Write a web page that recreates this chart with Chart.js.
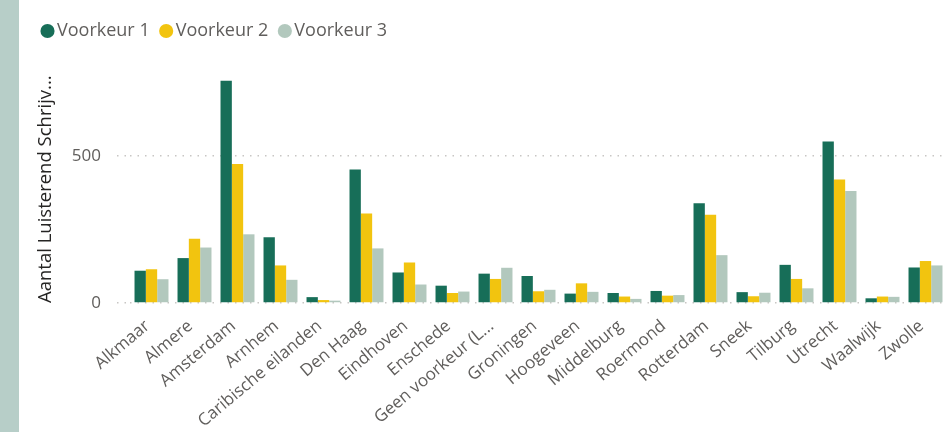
<!DOCTYPE html>
<html>
<head>
<meta charset="utf-8">
<script src="https://cdn.jsdelivr.net/npm/chart.js@4/dist/chart.umd.min.js"></script>
<style>
	html, body { margin: 0; padding: 0; background: #fff; overflow: hidden; }
	#strip { position: absolute; left: 0; top: 0; width: 19px; height: 432px; background: #b7cec8; }
	#box { position: absolute; left: 19px; top: 0; width: 931px; height: 432px; }
</style>
</head>
<body>
<div id="strip"></div>
<div id="box"><canvas id="chart"></canvas></div>
<script>
const categories = ['Alkmaar', 'Almere', 'Amsterdam', 'Arnhem', 'Caribische eilanden', 'Den Haag',
	'Eindhoven', 'Enschede', 'Geen voorkeur (L...', 'Groningen', 'Hoogeveen', 'Middelburg',
	'Roermond', 'Rotterdam', 'Sneek', 'Tilburg', 'Utrecht', 'Waalwijk', 'Zwolle'];
const voorkeur1 = [110, 153, 757, 224, 20, 455, 104, 59, 100, 92, 32, 34, 41, 340, 37, 130, 550, 16, 121];
const voorkeur2 = [115, 219, 474, 128, 10, 305, 138, 34, 82, 40, 67, 22, 25, 301, 23, 82, 421, 22, 143];
const voorkeur3 = [81, 189, 234, 79, 8, 186, 63, 39, 120, 45, 38, 14, 27, 163, 35, 50, 382, 21, 128];
const yTicks = [0, 500];

const font = "'Open Sans', 'Segoe UI', sans-serif";
const grey = '#605e5c';

const config = {
	type: 'bar',
	data: {
		labels: categories,
		datasets: [
			{ label: 'Voorkeur 1', data: voorkeur1, backgroundColor: '#176e58' },
			{ label: 'Voorkeur 2', data: voorkeur2, backgroundColor: '#f2c40f' },
			{ label: 'Voorkeur 3', data: voorkeur3, backgroundColor: '#b2c8bd' }
		]
	},
	options: {
		responsive: true,
		maintainAspectRatio: false,
		animation: false,
		layout: { padding: { left: 12, top: 6, right: 3, bottom: 0 } },
		datasets: { bar: { categoryPercentage: 0.79, barPercentage: 1.0, borderWidth: 0 } },
		plugins: {
			tooltip: { enabled: false },
			legend: {
				position: 'top',
				align: 'start',
				labels: {
					usePointStyle: true,
					pointStyle: 'circle',
					boxWidth: 1,
					boxHeight: 10,
					padding: 16,
					color: grey,
					font: { family: font, size: 18 }
				}
			}
		},
		scales: {
			x: {
				grid: { display: false },
				border: { display: false },
				ticks: {
					color: grey,
					font: { family: font, size: 17 },
					minRotation: 40,
					maxRotation: 40,
					autoSkip: false,
					padding: 5,
					labelOffset: -4
				},
				afterFit: (scale) => { scale.height = 129; }
			},
			y: {
				min: 0,
				max: 862,
				afterBuildTicks: (scale) => { scale.ticks = yTicks.map(v => ({ value: v })); },
				grid: {
					color: '#c8c6c4',
					lineWidth: 1.5,
					tickLength: 13,
					tickBorderDash: [1.5, 6],
					tickColor: '#c8c6c4'
				},
				border: { display: false, dash: [1.5, 6] },
				ticks: { color: grey, font: { family: font, size: 17 }, padding: 16 },
				title: {
					display: true,
					align: 'start',
					text: 'Aantal Luisterend Schrijv...',
					color: '#252423',
					font: { family: font, size: 18.5 },
					padding: { top: 4, bottom: 0 }
				},
				afterFit: (scale) => { scale.width = 99; }
			}
		}
	}
};

const myChart = new Chart(document.getElementById('chart'), config);
</script>
</body>
</html>
